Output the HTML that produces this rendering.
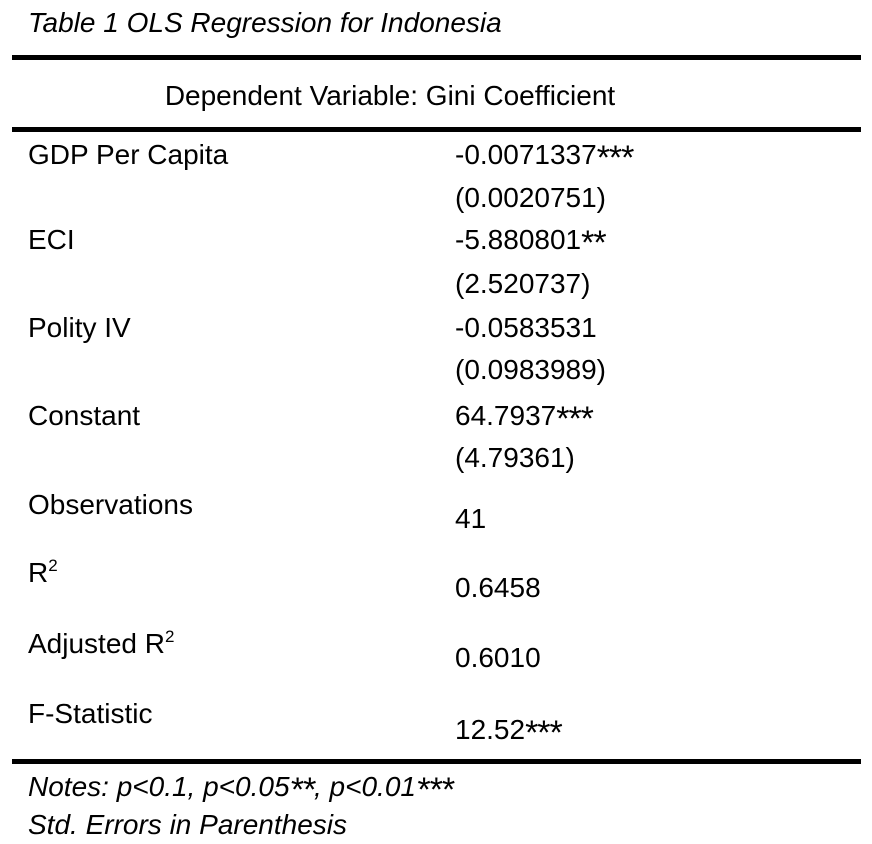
<!DOCTYPE html>
<html><head><meta charset="utf-8"><style>
body{margin:0;width:872px;height:844px;background:#fff;position:relative;font-family:"Liberation Sans",sans-serif;color:#000;overflow:hidden}
.t{position:absolute;font-size:28px;line-height:30px;white-space:nowrap}
.i{font-style:italic}
.l{position:absolute;left:12px;width:849px;height:5px;background:#000}
sup{font-size:17px;vertical-align:11px;line-height:0}
s{text-decoration:none;font-size:34px;vertical-align:-5px;line-height:0;letter-spacing:-1px}
</style></head><body>
<div class="t i" style="left:28px;top:8px">Table 1 OLS Regression for Indonesia</div>
<div class="l" style="top:55px"></div>
<div class="t" style="left:0;width:780px;text-align:center;top:81px">Dependent Variable: Gini Coefficient</div>
<div class="l" style="top:127px"></div>
<div class="t" style="left:28px;top:140px">GDP Per Capita</div>
<div class="t" style="left:455px;top:140px">-0.0071337<s>***</s></div>
<div class="t" style="left:455px;top:183px">(0.0020751)</div>
<div class="t" style="left:28px;top:225px">ECI</div>
<div class="t" style="left:455px;top:225px">-5.880801<s>**</s></div>
<div class="t" style="left:455px;top:269px">(2.520737)</div>
<div class="t" style="left:28px;top:313px">Polity IV</div>
<div class="t" style="left:455px;top:313px">-0.0583531</div>
<div class="t" style="left:455px;top:355px">(0.0983989)</div>
<div class="t" style="left:28px;top:401px">Constant</div>
<div class="t" style="left:455px;top:401px">64.7937<s>***</s></div>
<div class="t" style="left:455px;top:443px">(4.79361)</div>
<div class="t" style="left:28px;top:490px">Observations</div>
<div class="t" style="left:455px;top:504px">41</div>
<div class="t" style="left:28px;top:558px">R<sup>2</sup></div>
<div class="t" style="left:455px;top:573px">0.6458</div>
<div class="t" style="left:28px;top:629px">Adjusted R<sup>2</sup></div>
<div class="t" style="left:455px;top:643px">0.6010</div>
<div class="t" style="left:28px;top:699px">F-Statistic</div>
<div class="t" style="left:455px;top:715px">12.52<s>***</s></div>
<div class="l" style="top:759px"></div>
<div class="t i" style="left:28px;top:772px">Notes: p&lt;0.1, p&lt;0.05<s>**</s>, p&lt;0.01<s>***</s></div>
<div class="t i" style="left:28px;top:810px">Std. Errors in Parenthesis</div>
</body></html>
